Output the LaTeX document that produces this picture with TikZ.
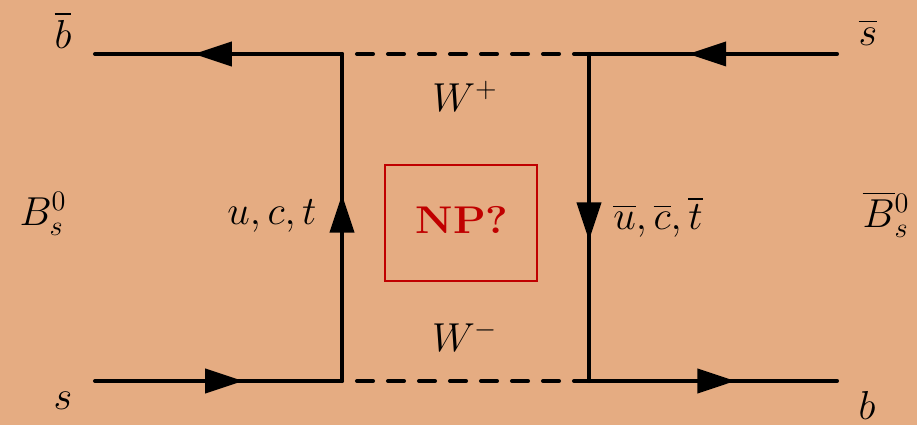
\RequirePackage{fix-cm}
\documentclass[tikz,border=0pt]{standalone}
\usepackage{amsmath}
\usepackage{xcolor}
\usepackage{tikz}
\usetikzlibrary{arrows.meta,decorations.markings}

\definecolor{bgpeach}{HTML}{E5AC82}
\definecolor{npred}{HTML}{C00000}

\begin{document}
\begin{tikzpicture}[
    fermion/.style={line width=2.3pt, line cap=round, postaction={decorate},
      decoration={markings, mark=at position #1 with {\arrow{Triangle[length=0.76cm,width=0.48cm]}}}},
    wline/.style={line width=2.3pt, line cap=round, dash pattern=on 0.32cm off 0.30cm, dash phase=0.32cm},
    lbl/.style={font=\fontsize{23}{28}\selectfont, inner sep=0pt}
  ]
    \fill[bgpeach] (0,0) rectangle (18.34,8.5);
    \useasboundingbox (0,0) rectangle (18.34,8.5);

    % external legs and vertices
    \coordinate (bbar) at (1.9,7.42);
    \coordinate (sin)  at (1.9,0.88);
    \coordinate (sbar) at (16.74,7.42);
    \coordinate (bout) at (16.74,0.88);
    \coordinate (vtl) at (6.84,7.42);
    \coordinate (vbl) at (6.84,0.88);
    \coordinate (vtr) at (11.78,7.42);
    \coordinate (vbr) at (11.78,0.88);

    \draw[fermion=0.6] (vtl) -- (bbar);
    \draw[fermion=0.6] (sbar) -- (vtr);
    \draw[fermion=0.6] (sin) -- (vbl);
    \draw[fermion=0.59] (vbr) -- (bout);
    \draw[fermion=0.57] (vbl) -- (vtl);
    \draw[fermion=0.57] (vtr) -- (vbr);

    \draw[wline] (vtl) -- (vtr);
    \draw[wline] (vbl) -- (vbr);

    % labels
    \node[lbl] (lbbar) at (1.26,7.9) {$\overline{b}$};
    \node[lbl] (lsbar) at (17.36,7.86) {$\overline{s}$};
    \node[lbl] (ls) at (1.26,0.48) {$s$};
    \node[lbl] (lb) at (17.34,0.4) {$b$};
    \node[lbl] (lBs) at (0.86,4.22) {$B_s^0$};
    \node[lbl] (lBsbar) at (17.72,4.22) {$\overline{B}{}_s^0$};
    \node[lbl, anchor=base east] (luct) at (6.34,4.0) {$u,c,t$};
    \node[lbl, anchor=base west] (lubar) at (12.26,3.9) {$\overline{u},\overline{c},\overline{t}$};
    \node[lbl, anchor=base] (lWp) at (9.3,6.26) {$W^+$};
    \node[lbl, anchor=base] (lWm) at (9.3,1.46) {$W^-$};

    % new physics box
    \node[draw=npred, line width=0.6pt, minimum width=3.04cm, minimum height=2.32cm] (np) at (9.22,4.04) {};
    \node[text=npred, font=\fontsize{22}{26}\selectfont\bfseries, inner sep=0pt] (nptext) at (9.24,4.11) {\scalebox{1.1}[1]{NP?}};
\end{tikzpicture}
\end{document}
